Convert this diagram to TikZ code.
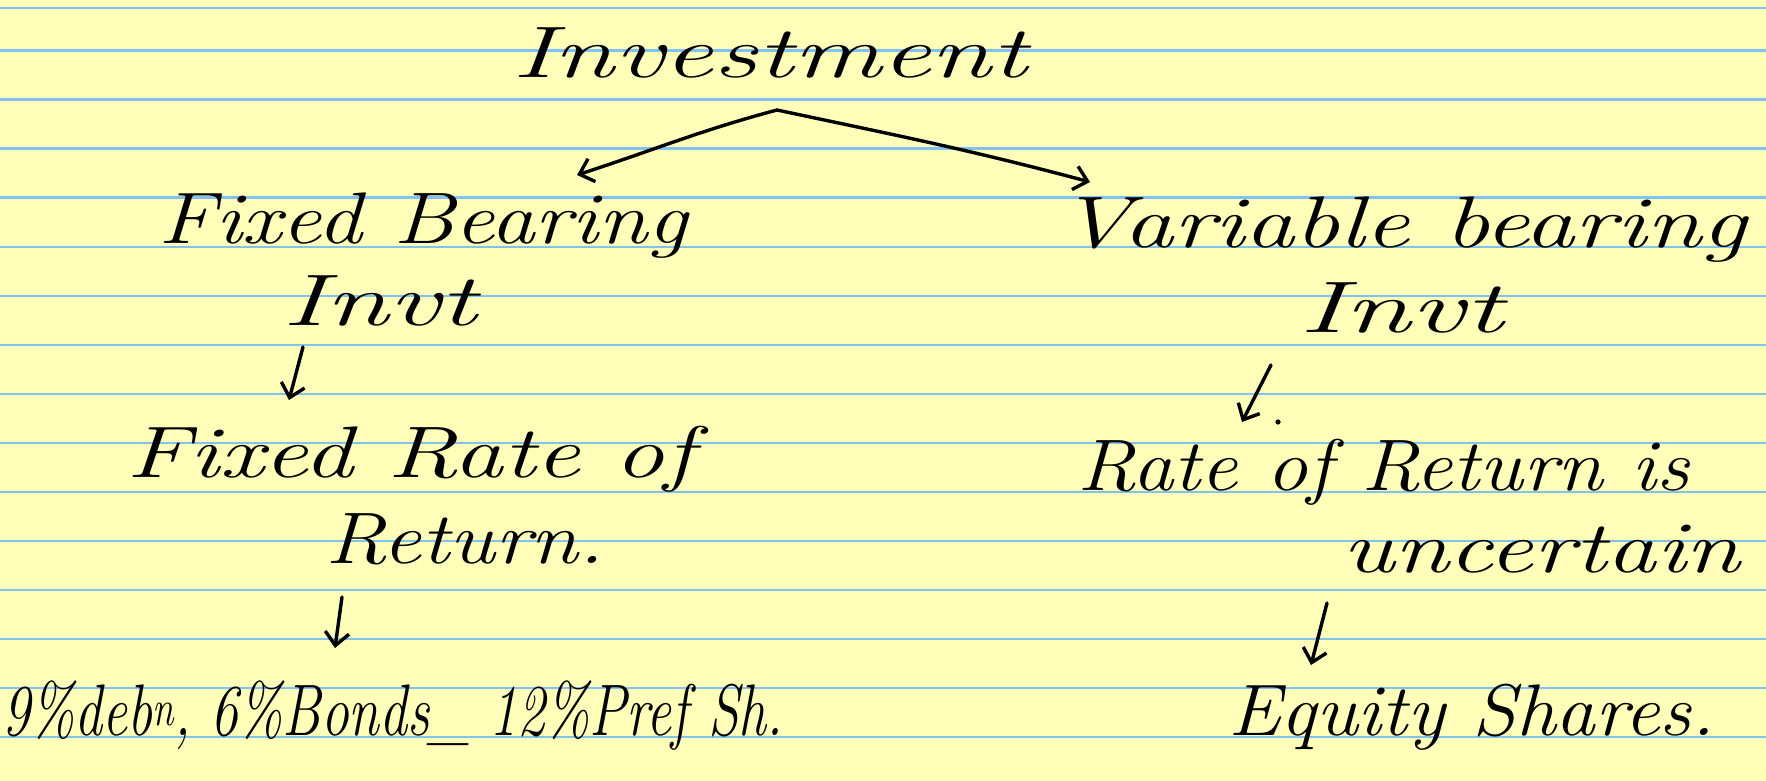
\documentclass[tikz,border=0pt]{standalone}
\usepackage{fontspec}
\usepackage{graphicx}
\usetikzlibrary{arrows.meta}
\definecolor{paper}{RGB}{255,255,186}
\definecolor{ruleblue}{RGB}{128,194,240}
\newcommand\hw[2]{\resizebox{#1pt}{\height}{#2}}
\begin{document}
\begin{tikzpicture}[x=1pt,y=-1pt,
  hand/.style={font=\fontsize{73}{80}\selectfont\itshape, inner sep=0pt, anchor=base west},
  ruling/.style={draw=ruleblue, line width=2.4pt},
  conn/.style={line width=3.4pt, line cap=round, line join=round,
    -{Straight Barb[length=13pt,width=24pt]}}]
\fill[paper] (0,0) rectangle (1766,781);
\useasboundingbox (0,0) rectangle (1766,781);
\foreach \y in {8,50.5,99.5,148.5,197.5,247,296,345,394,443,492,541,590,639,688,737}
  \draw[ruling] (0,\y) -- (1766,\y);
% texts
\node[hand] (inv) at (512,78) {\hw{515}{Investment}};
\node[hand] (fb) at (158,243) {\hw{529}{Fixed Bearing}};
\node[hand] (invtL) at (282,325) {\hw{195}{Invt}};
\node[hand] (fr) at (126,477) {\hw{568}{Fixed Rate of}};
\node[hand] (ret) at (325,563) {\hw{279}{Return.}};
\node[hand] (ex) at (2,735) {\hw{781}{9\%deb\textsuperscript{n}, 6\%Bonds\_ 12\%Pref Sh.}};
\node[hand] (vb) at (1058,247) {\hw{688}{Variable bearing}};
\node[hand] (invtR) at (1299,332) {\hw{204}{Invt}};
\node[hand] (rr) at (1077,490) {\hw{612}{Rate of Return is}};
\node[hand] (unc) at (1342,572) {\hw{398}{uncertain}};
\node[hand] (eq) at (1228,735) {\hw{487}{Equity Shares.}};
% connectors
\coordinate (apex) at (777,110);
\coordinate (tipA) at (577,175);
\coordinate (tipB) at (1090,182);
\draw[conn] (apex) to[out=195,in=18] (tipA);
\draw[conn] (apex) to[out=-12,in=165] (tipB);
\coordinate (a1s) at (303,347); \coordinate (a1e) at (289,400);
\coordinate (a2s) at (342,597); \coordinate (a2e) at (335,648);
\coordinate (a3s) at (1271,365); \coordinate (a3e) at (1242,422);
\coordinate (a4s) at (1327,603); \coordinate (a4e) at (1311,665);
\draw[conn] (a1s) -- (a1e);
\draw[conn] (a2s) -- (a2e);
\draw[conn] (a3s) -- (a3e);
\draw[conn] (a4s) -- (a4e);
\fill (1278,422) circle (2.6pt);
\end{tikzpicture}
\end{document}
